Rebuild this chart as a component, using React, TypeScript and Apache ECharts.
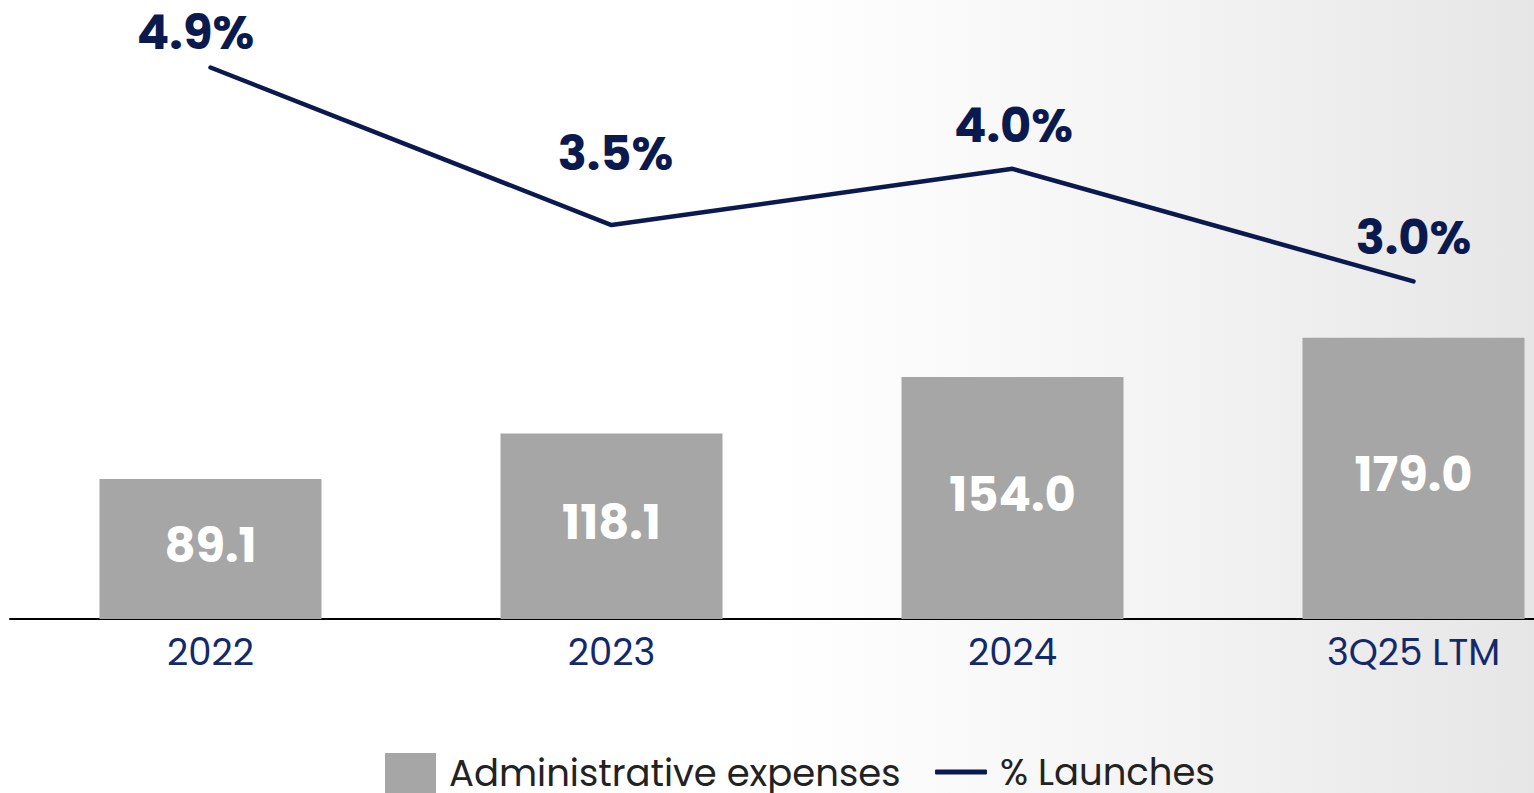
import React, { useEffect, useRef } from "react";
import * as echarts from "echarts";

const categories = ["2022", "2023", "2024", "3Q25 LTM"];
const adminExpenses = [89.1, 118.1, 154.0, 179.0];
const launchesPct = [4.9, 3.5, 4.0, 3.0];

const NAVY = "#0b1a4e";
const FONT = "Poppins, 'Open Sans', Inter, sans-serif";

export default function App() {
  const ref = useRef<HTMLDivElement>(null);
  useEffect(() => {
    if (!ref.current) return;
    const chart = echarts.init(ref.current, undefined, { renderer: "svg" });
    const labelTweaks = [
      { distance: 11, offset: [-15, 0] },
      { distance: 47, offset: [4, 0] },
      { distance: 19, offset: [1, 0] },
      { distance: 19, offset: [0, 0] },
    ];
    const legendText = { fontSize: 37, lineHeight: 38, color: "#222", fontFamily: FONT, padding: [0, 0, 0, 8] };
    chart.setOption({
      animation: false,
      backgroundColor: "transparent",
      textStyle: { fontFamily: FONT },
      grid: { left: 10, top: 0, width: 1604, height: 619, containLabel: false, outerBoundsMode: "none" },
      legend: [
        {
          top: 753,
          left: 385,
          padding: 0,
          itemWidth: 51,
          itemHeight: 40,
          textStyle: legendText,
          data: [{ name: "Administrative expenses", icon: "rect" }],
        },
        {
          top: 753,
          left: 935,
          padding: 0,
          itemWidth: 52,
          itemHeight: 5,
          textStyle: legendText,
          data: [{ name: "% Launches", icon: "roundRect" }],
        },
      ],
      xAxis: {
        type: "category",
        data: categories,
        axisLine: { lineStyle: { color: "#000", width: 2 } },
        axisTick: { show: false },
        axisLabel: { color: "#12296b", fontSize: 37, margin: 14, fontFamily: FONT },
      },
      yAxis: [
        { type: "value", min: 0, max: 394, show: false, splitLine: { show: false } },
        { type: "value", min: 0, max: 5.5, show: false, splitLine: { show: false } },
      ],
      series: [
        {
          name: "Administrative expenses",
          type: "bar",
          yAxisIndex: 0,
          barWidth: 222,
          data: adminExpenses,
          itemStyle: { color: "#a6a6a6" },
          label: {
            show: true,
            position: "inside",
            offset: [0, -4],
            color: "#fff",
            fontWeight: "bold",
            fontSize: 48,
            fontFamily: FONT,
            formatter: (p: any) => p.value.toFixed(1),
          },
        },
        {
          name: "% Launches",
          type: "line",
          yAxisIndex: 1,
          symbol: "circle",
          symbolSize: 1,
          showSymbol: true,
          lineStyle: { color: NAVY, width: 4.5, cap: "round" },
          itemStyle: { color: NAVY },
          data: launchesPct.map((v, i) => ({
            value: v,
            label: { distance: labelTweaks[i].distance, offset: labelTweaks[i].offset },
          })),
          label: {
            show: true,
            position: "top",
            color: NAVY,
            fontWeight: "bold",
            fontSize: 48,
            lineHeight: 48,
            fontFamily: FONT,
            formatter: (p: any) => p.value.toFixed(1) + "%",
          },
        },
      ],
    });
    return () => chart.dispose();
  }, []);
  return (
    <div
      ref={ref}
      style={{
        position: "fixed",
        left: 0,
        top: 0,
        width: 1534,
        height: 793,
        background: "linear-gradient(to right, #ffffff 0%, #ffffff 50%, #f4f4f4 75%, #e6e6e6 100%)",
      }}
    />
  );
}
